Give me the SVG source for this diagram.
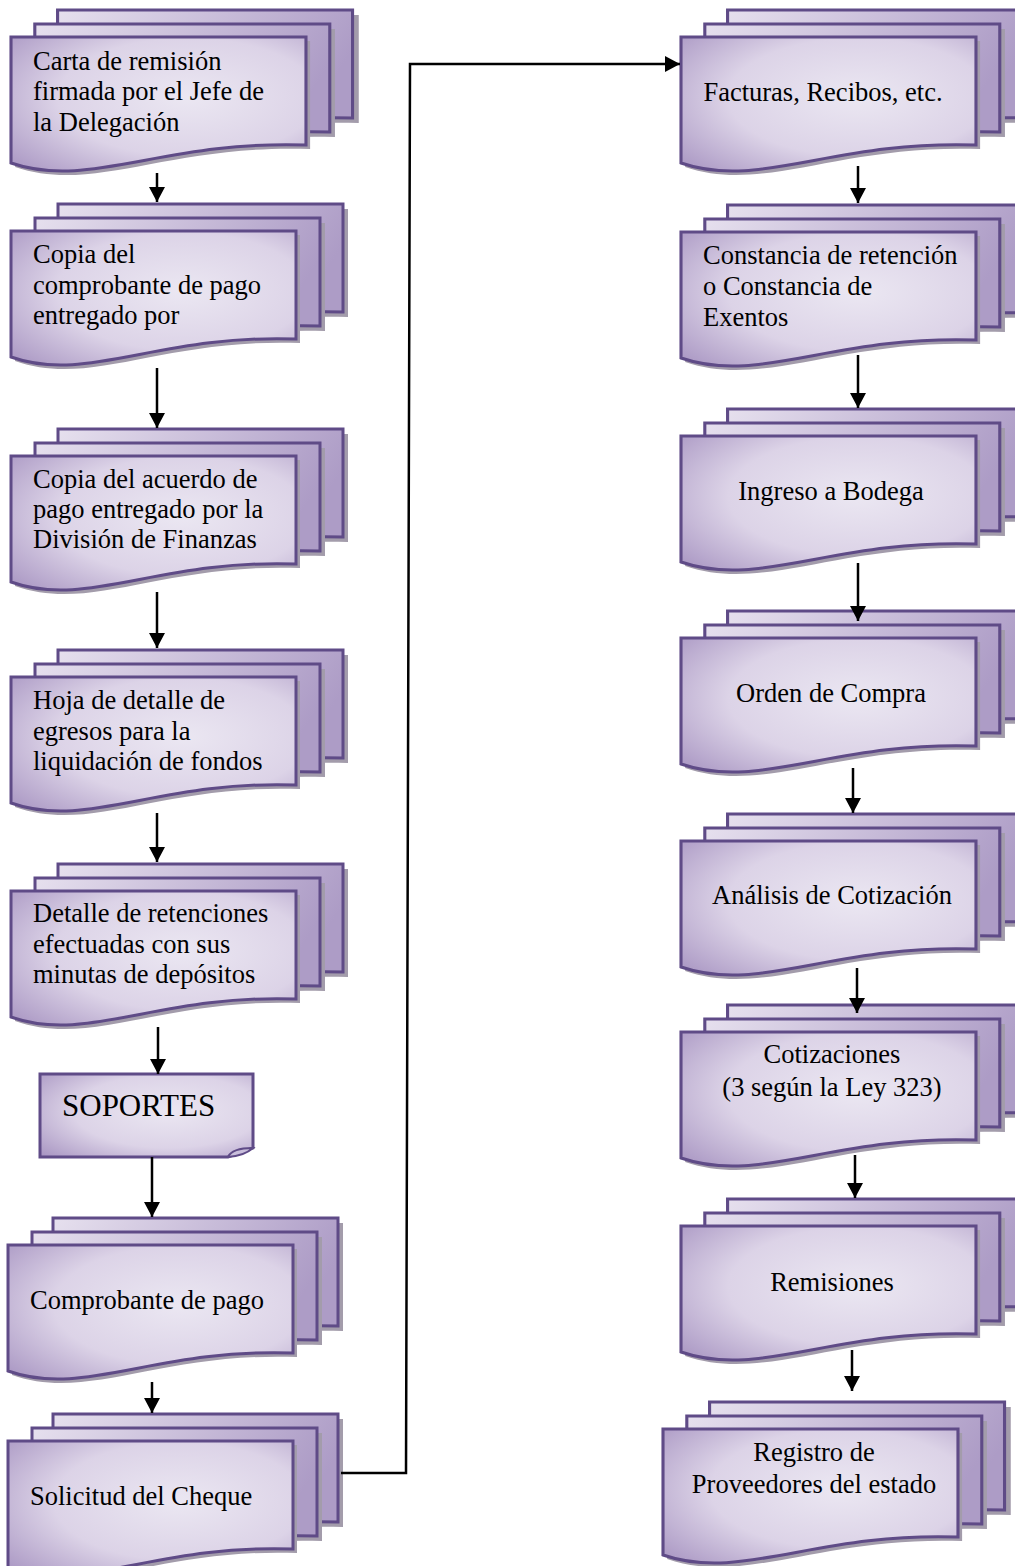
<svg xmlns="http://www.w3.org/2000/svg" xmlns:xlink="http://www.w3.org/1999/xlink" width="1015" height="1566" viewBox="0 0 1015 1566">
<defs>
<radialGradient id="gF" cx="0.6" cy="0.45" r="0.8">
<stop offset="0" stop-color="#ebe7f2"/>
<stop offset="0.55" stop-color="#dcd3e7"/>
<stop offset="1" stop-color="#a895c2"/>
</radialGradient>
<linearGradient id="gB" x1="0" y1="0" x2="1" y2="0.3">
<stop offset="0" stop-color="#e6e0ee"/>
<stop offset="1" stop-color="#ad9cc6"/>
</linearGradient>
<path id="doc" d="M0,0 H285 V108 C147,103 76,153 0,126 Z"/>
<marker id="ah" markerWidth="16" markerHeight="16" viewBox="0 0 16 16" refX="15" refY="8" orient="auto" markerUnits="userSpaceOnUse">
<path d="M0,0 L15,8 L0,16 Z" fill="#000"/>
</marker>
</defs>
<style>
.sh{fill:#a39cab}
.f{fill:url(#gF);stroke:#5f4b87;stroke-width:3}
.b{fill:url(#gB);stroke:#5f4b87;stroke-width:3}
.t{font-family:"Liberation Serif","Times New Roman",serif;font-size:26.5px;fill:#000}
.c{text-anchor:middle}
.con{fill:none;stroke:#000;stroke-width:2.5;marker-end:url(#ah)}
</style>
<rect width="1015" height="1566" fill="#fff"/>

<g id="n1">
<g transform="translate(11,37) scale(1.035,1)">
<use href="#doc" xlink:href="#doc" class="sh" x="51" y="-22"/><use href="#doc" xlink:href="#doc" class="b" x="45" y="-27"/>
<use href="#doc" xlink:href="#doc" class="sh" x="28" y="-8"/><use href="#doc" xlink:href="#doc" class="b" x="23" y="-13"/>
<use href="#doc" xlink:href="#doc" class="sh" x="4" y="4"/><use href="#doc" xlink:href="#doc" class="f"/>
</g>
<text class="t" x="33" y="70">Carta de remisión</text>
<text class="t" x="33" y="100">firmada por el Jefe de</text>
<text class="t" x="33" y="131">la Delegación</text>
</g>

<g id="n2">
<g transform="translate(11,231)">
<use href="#doc" xlink:href="#doc" class="sh" x="52" y="-22"/><use href="#doc" xlink:href="#doc" class="b" x="47" y="-27"/>
<use href="#doc" xlink:href="#doc" class="sh" x="29" y="-8"/><use href="#doc" xlink:href="#doc" class="b" x="24" y="-13"/>
<use href="#doc" xlink:href="#doc" class="sh" x="4" y="4"/><use href="#doc" xlink:href="#doc" class="f"/>
</g>
<text class="t" x="33" y="263">Copia del</text>
<text class="t" x="33" y="294">comprobante de pago</text>
<text class="t" x="33" y="324">entregado por</text>
</g>

<g id="n3">
<g transform="translate(11,456)">
<use href="#doc" xlink:href="#doc" class="sh" x="52" y="-22"/><use href="#doc" xlink:href="#doc" class="b" x="47" y="-27"/>
<use href="#doc" xlink:href="#doc" class="sh" x="29" y="-8"/><use href="#doc" xlink:href="#doc" class="b" x="24" y="-13"/>
<use href="#doc" xlink:href="#doc" class="sh" x="4" y="4"/><use href="#doc" xlink:href="#doc" class="f"/>
</g>
<text class="t" x="33" y="488">Copia del acuerdo de</text>
<text class="t" x="33" y="518">pago entregado por la</text>
<text class="t" x="33" y="548">División de Finanzas</text>
</g>

<g id="n4">
<g transform="translate(11,677)">
<use href="#doc" xlink:href="#doc" class="sh" x="52" y="-22"/><use href="#doc" xlink:href="#doc" class="b" x="47" y="-27"/>
<use href="#doc" xlink:href="#doc" class="sh" x="29" y="-8"/><use href="#doc" xlink:href="#doc" class="b" x="24" y="-13"/>
<use href="#doc" xlink:href="#doc" class="sh" x="4" y="4"/><use href="#doc" xlink:href="#doc" class="f"/>
</g>
<text class="t" x="33" y="709">Hoja de detalle de</text>
<text class="t" x="33" y="740">egresos para la</text>
<text class="t" x="33" y="770">liquidación de fondos</text>
</g>

<g id="n5">
<g transform="translate(11,891)">
<use href="#doc" xlink:href="#doc" class="sh" x="52" y="-22"/><use href="#doc" xlink:href="#doc" class="b" x="47" y="-27"/>
<use href="#doc" xlink:href="#doc" class="sh" x="29" y="-8"/><use href="#doc" xlink:href="#doc" class="b" x="24" y="-13"/>
<use href="#doc" xlink:href="#doc" class="sh" x="4" y="4"/><use href="#doc" xlink:href="#doc" class="f"/>
</g>
<text class="t" x="33" y="922">Detalle de retenciones</text>
<text class="t" x="33" y="953">efectuadas con sus</text>
<text class="t" x="33" y="983">minutas de depósitos</text>
</g>

<g id="soportes">
<path d="M40,1074 H253 V1148 L228,1157 H40 Z" fill="url(#gF)" stroke="#5f4b87" stroke-width="3"/>
<path d="M228,1157 Q232,1148 253,1148 Q244,1156 228,1157 Z" fill="#c9bedb" stroke="#5f4b87" stroke-width="2"/>
<text class="t" x="62" y="1116" style="font-size:31px">SOPORTES</text>
</g>

<g id="n6">
<g transform="translate(8,1245)">
<use href="#doc" xlink:href="#doc" class="sh" x="50" y="-22"/><use href="#doc" xlink:href="#doc" class="b" x="45" y="-27"/>
<use href="#doc" xlink:href="#doc" class="sh" x="29" y="-8"/><use href="#doc" xlink:href="#doc" class="b" x="24" y="-13"/>
<use href="#doc" xlink:href="#doc" class="sh" x="4" y="4"/><use href="#doc" xlink:href="#doc" class="f"/>
</g>
<text class="t" x="30" y="1309">Comprobante de pago</text>
</g>

<g id="n7">
<g transform="translate(8,1441)">
<use href="#doc" xlink:href="#doc" class="sh" x="50" y="-22"/><use href="#doc" xlink:href="#doc" class="b" x="45" y="-27"/>
<use href="#doc" xlink:href="#doc" class="sh" x="29" y="-8"/><use href="#doc" xlink:href="#doc" class="b" x="24" y="-13"/>
<use href="#doc" xlink:href="#doc" class="sh" x="4" y="4"/><use href="#doc" xlink:href="#doc" class="f"/>
</g>
<text class="t" x="30" y="1505">Solicitud del Cheque</text>
</g>

<g id="r1">
<g transform="translate(681,37) scale(1.035,1)">
<use href="#doc" xlink:href="#doc" class="sh" x="51" y="-22"/><use href="#doc" xlink:href="#doc" class="b" x="45" y="-27"/>
<use href="#doc" xlink:href="#doc" class="sh" x="28" y="-8"/><use href="#doc" xlink:href="#doc" class="b" x="23" y="-13"/>
<use href="#doc" xlink:href="#doc" class="sh" x="4" y="4"/><use href="#doc" xlink:href="#doc" class="f"/>
</g>
<text class="t c" x="823" y="101">Facturas, Recibos, etc.</text>
</g>

<g id="r2">
<g transform="translate(681,232) scale(1.035,1)">
<use href="#doc" xlink:href="#doc" class="sh" x="51" y="-22"/><use href="#doc" xlink:href="#doc" class="b" x="45" y="-27"/>
<use href="#doc" xlink:href="#doc" class="sh" x="28" y="-8"/><use href="#doc" xlink:href="#doc" class="b" x="23" y="-13"/>
<use href="#doc" xlink:href="#doc" class="sh" x="4" y="4"/><use href="#doc" xlink:href="#doc" class="f"/>
</g>
<text class="t" x="703" y="264">Constancia de retención</text>
<text class="t" x="703" y="295">o Constancia de</text>
<text class="t" x="703" y="326">Exentos</text>
</g>

<g id="r3">
<g transform="translate(681,436) scale(1.035,1)">
<use href="#doc" xlink:href="#doc" class="sh" x="51" y="-22"/><use href="#doc" xlink:href="#doc" class="b" x="45" y="-27"/>
<use href="#doc" xlink:href="#doc" class="sh" x="28" y="-8"/><use href="#doc" xlink:href="#doc" class="b" x="23" y="-13"/>
<use href="#doc" xlink:href="#doc" class="sh" x="4" y="4"/><use href="#doc" xlink:href="#doc" class="f"/>
</g>
<text class="t c" x="831" y="500">Ingreso a Bodega</text>
</g>

<g id="r4">
<g transform="translate(681,638) scale(1.035,1)">
<use href="#doc" xlink:href="#doc" class="sh" x="51" y="-22"/><use href="#doc" xlink:href="#doc" class="b" x="45" y="-27"/>
<use href="#doc" xlink:href="#doc" class="sh" x="28" y="-8"/><use href="#doc" xlink:href="#doc" class="b" x="23" y="-13"/>
<use href="#doc" xlink:href="#doc" class="sh" x="4" y="4"/><use href="#doc" xlink:href="#doc" class="f"/>
</g>
<text class="t c" x="831" y="702">Orden de Compra</text>
</g>

<g id="r5">
<g transform="translate(681,841) scale(1.035,1)">
<use href="#doc" xlink:href="#doc" class="sh" x="51" y="-22"/><use href="#doc" xlink:href="#doc" class="b" x="45" y="-27"/>
<use href="#doc" xlink:href="#doc" class="sh" x="28" y="-8"/><use href="#doc" xlink:href="#doc" class="b" x="23" y="-13"/>
<use href="#doc" xlink:href="#doc" class="sh" x="4" y="4"/><use href="#doc" xlink:href="#doc" class="f"/>
</g>
<text class="t c" x="832" y="904">Análisis de Cotización</text>
</g>

<g id="r6">
<g transform="translate(681,1032) scale(1.035,1)">
<use href="#doc" xlink:href="#doc" class="sh" x="51" y="-22"/><use href="#doc" xlink:href="#doc" class="b" x="45" y="-27"/>
<use href="#doc" xlink:href="#doc" class="sh" x="28" y="-8"/><use href="#doc" xlink:href="#doc" class="b" x="23" y="-13"/>
<use href="#doc" xlink:href="#doc" class="sh" x="4" y="4"/><use href="#doc" xlink:href="#doc" class="f"/>
</g>
<text class="t c" x="832" y="1063">Cotizaciones</text>
<text class="t c" x="832" y="1096">(3 según la Ley 323)</text>
</g>

<g id="r7">
<g transform="translate(681,1226) scale(1.035,1)">
<use href="#doc" xlink:href="#doc" class="sh" x="51" y="-22"/><use href="#doc" xlink:href="#doc" class="b" x="45" y="-27"/>
<use href="#doc" xlink:href="#doc" class="sh" x="28" y="-8"/><use href="#doc" xlink:href="#doc" class="b" x="23" y="-13"/>
<use href="#doc" xlink:href="#doc" class="sh" x="4" y="4"/><use href="#doc" xlink:href="#doc" class="f"/>
</g>
<text class="t c" x="832" y="1291">Remisiones</text>
</g>

<g id="r8">
<g transform="translate(663,1429) scale(1.035,1)">
<use href="#doc" xlink:href="#doc" class="sh" x="51" y="-22"/><use href="#doc" xlink:href="#doc" class="b" x="45" y="-27"/>
<use href="#doc" xlink:href="#doc" class="sh" x="28" y="-8"/><use href="#doc" xlink:href="#doc" class="b" x="23" y="-13"/>
<use href="#doc" xlink:href="#doc" class="sh" x="4" y="4"/><use href="#doc" xlink:href="#doc" class="f"/>
</g>
<text class="t c" x="814" y="1461">Registro de</text>
<text class="t c" x="814" y="1493">Proveedores del estado</text>
</g>

<g id="connectors">
<line class="con" x1="157" y1="173" x2="157" y2="202"/>
<line class="con" x1="157" y1="368" x2="157" y2="428"/>
<line class="con" x1="157" y1="592" x2="157" y2="648"/>
<line class="con" x1="157" y1="813" x2="157" y2="862"/>
<line class="con" x1="158" y1="1027" x2="158" y2="1074"/>
<line class="con" x1="152" y1="1157" x2="152" y2="1217"/>
<line class="con" x1="152" y1="1382" x2="152" y2="1413"/>
<polyline class="con" points="341,1473 406,1473 410,64 680,64"/>
<line class="con" x1="858" y1="166" x2="858" y2="203"/>
<line class="con" x1="858" y1="355" x2="858" y2="408"/>
<line class="con" x1="858" y1="563" x2="858" y2="621"/>
<line class="con" x1="853" y1="768" x2="853" y2="813"/>
<line class="con" x1="857" y1="968" x2="857" y2="1013"/>
<line class="con" x1="855" y1="1155" x2="855" y2="1198"/>
<line class="con" x1="852" y1="1350" x2="852" y2="1391"/>
</g>
</svg>
